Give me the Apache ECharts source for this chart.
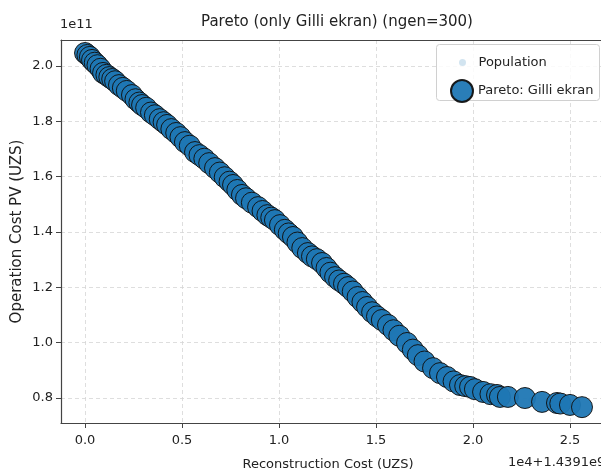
<!DOCTYPE html>
<html>
<head>
<meta charset="utf-8">
<script src="https://cdn.jsdelivr.net/npm/echarts@6/dist/echarts.min.js"></script>
<style>html,body{margin:0;padding:0;background:#fff;}#c{width:601px;height:473px;}</style>
</head>
<body>
<div id="c"></div>
<script>
// Reconstruction cost (offset units 1e4 + 1.4391e9) and operation cost PV (1e11)
const paretoX = [0.000,0.012,0.025,0.036,0.050,0.064,0.080,0.093,0.110,0.125,0.140,0.155,0.175,0.195,0.215,0.242,0.260,0.280,0.294,0.315,0.340,0.360,0.385,0.405,0.423,0.445,0.470,0.492,0.515,0.540,0.567,0.590,0.615,0.640,0.670,0.695,0.720,0.745,0.763,0.785,0.809,0.830,0.860,0.892,0.915,0.940,0.960,0.979,1.005,1.030,1.050,1.072,1.095,1.120,1.149,1.170,1.195,1.222,1.245,1.265,1.289,1.310,1.335,1.356,1.380,1.405,1.430,1.454,1.480,1.505,1.530,1.562,1.590,1.620,1.660,1.690,1.716,1.750,1.794,1.830,1.866,1.900,1.933,1.960,1.985,2.010,2.052,2.090,2.124,2.139,2.180,2.268,2.356,2.433,2.450,2.500,2.562];
const paretoY = [2.047,2.040,2.033,2.022,2.012,2.003,1.990,1.975,1.968,1.960,1.953,1.945,1.931,1.921,1.910,1.895,1.880,1.868,1.859,1.849,1.832,1.822,1.808,1.797,1.787,1.772,1.758,1.743,1.725,1.712,1.689,1.678,1.665,1.649,1.631,1.615,1.598,1.582,1.570,1.552,1.534,1.522,1.506,1.490,1.476,1.461,1.452,1.443,1.425,1.408,1.395,1.382,1.362,1.342,1.324,1.312,1.302,1.288,1.270,1.253,1.237,1.225,1.213,1.201,1.185,1.165,1.147,1.129,1.110,1.095,1.082,1.064,1.045,1.025,0.999,0.975,0.955,0.932,0.908,0.890,0.876,0.860,0.847,0.843,0.840,0.832,0.822,0.814,0.811,0.804,0.804,0.800,0.786,0.782,0.780,0.775,0.767];
const popX = [0.030,0.150,0.300,0.450,0.600,0.750,0.900,1.050,1.200,1.350,1.500,1.650,1.800,1.950,2.100,2.300,2.480];
const popY = [2.028,1.948,1.857,1.770,1.682,1.584,1.486,1.397,1.300,1.204,1.100,1.004,0.903,0.846,0.815,0.793,0.776];
const xTicks = [0.0,0.5,1.0,1.5,2.0,2.5];
const yTicks = [0.8,1.0,1.2,1.4,1.6,1.8,2.0];

const pareto = paretoX.map((x,i)=>[x,paretoY[i]]);
const pop = popX.map((x,i)=>[x,popY[i]]);
const FONT = 'DejaVu Sans';

const chart = echarts.init(document.getElementById('c'), null, {renderer:'canvas'});
chart.setOption({
  animation:false,
  backgroundColor:'#fff',
  textStyle:{fontFamily:FONT},
  title:{
    text:'Pareto (only Gilli ekran) (ngen=300)',
    left:332, top:10, textAlign:'center',
    textStyle:{fontFamily:FONT,fontSize:15,fontWeight:'normal',color:'#222'}
  },
  grid:{left:61, right:0, top:40, bottom:50, containLabel:false, outerBoundsMode:'none'},
  xAxis:[{
    type:'value', min:-0.124, max:2.66,
    name:'Reconstruction Cost (UZS)', nameLocation:'middle', nameGap:35,
    nameTextStyle:{fontFamily:FONT,fontSize:13,color:'#222',padding:[0,6,0,0]},
    axisLine:{show:true,onZero:false,lineStyle:{color:'#444',width:1.2}},
    axisTick:{show:true,length:5,customValues:xTicks,lineStyle:{color:'#444'}},
    axisLabel:{customValues:xTicks,margin:11,fontFamily:FONT,fontSize:13,color:'#222',formatter:v=>v.toFixed(1)},
    splitLine:{show:true,lineStyle:{type:[4,3],color:'#d6d6d6',width:0.8}}
  },{
    type:'value', position:'top', min:-0.124, max:2.66,
    axisLine:{show:true,onZero:false,lineStyle:{color:'#444',width:1.2}},
    axisTick:{show:false}, axisLabel:{show:false}, splitLine:{show:false}
  }],
  yAxis:{
    type:'value', min:0.7097, max:2.094,
    name:'Operation Cost PV (UZS)', nameLocation:'middle', nameGap:36, nameRotate:90, nameMoveOverlap:false,
    nameTextStyle:{fontFamily:FONT,fontSize:15,color:'#222'},
    axisLine:{show:true,onZero:false,lineStyle:{color:'#444',width:1.2}},
    axisTick:{show:true,length:5,customValues:yTicks,lineStyle:{color:'#444'}},
    axisLabel:{customValues:yTicks,margin:8,fontFamily:FONT,fontSize:13,color:'#222',formatter:v=>v.toFixed(1)},
    splitLine:{show:true,lineStyle:{type:[4,3],color:'#d6d6d6',width:0.8}}
  },
  graphic:[
    {type:'text',left:60,top:18,style:{text:'1e11',font:'13px "DejaVu Sans"',fill:'#222'}},
    {type:'text',left:508,top:456,style:{text:'1e4+1.4391e9',font:'13px "DejaVu Sans"',fill:'#222'}},
    {type:'rect',left:436,top:44,z:10,shape:{width:163,height:56,r:3},style:{fill:'rgba(255,255,255,0.85)',stroke:'#d0d0d0',lineWidth:1}}
  ],
  legend:[{
    data:['Population'], left:454, top:51, itemWidth:22, itemHeight:7, icon:'circle', z:20,
    textStyle:{fontFamily:FONT,fontSize:13,color:'#222'}, itemGap:5
  },{
    data:['Pareto: Gilli ekran'], left:445, top:74, itemWidth:22, itemHeight:22, icon:'circle', z:20,
    textStyle:{fontFamily:FONT,fontSize:13,color:'#222'}
  }],
  series:[{
    name:'Population', type:'scatter', data:pop, symbolSize:6, z:1,
    itemStyle:{color:'rgba(31,119,180,0.25)'}
  },{
    name:'Pareto: Gilli ekran', type:'scatter', data:pareto, symbolSize:21, z:2,
    itemStyle:{color:'#1f77b4',borderColor:'#111',borderWidth:1,opacity:0.95}
  }]
});
</script>
</body>
</html>
